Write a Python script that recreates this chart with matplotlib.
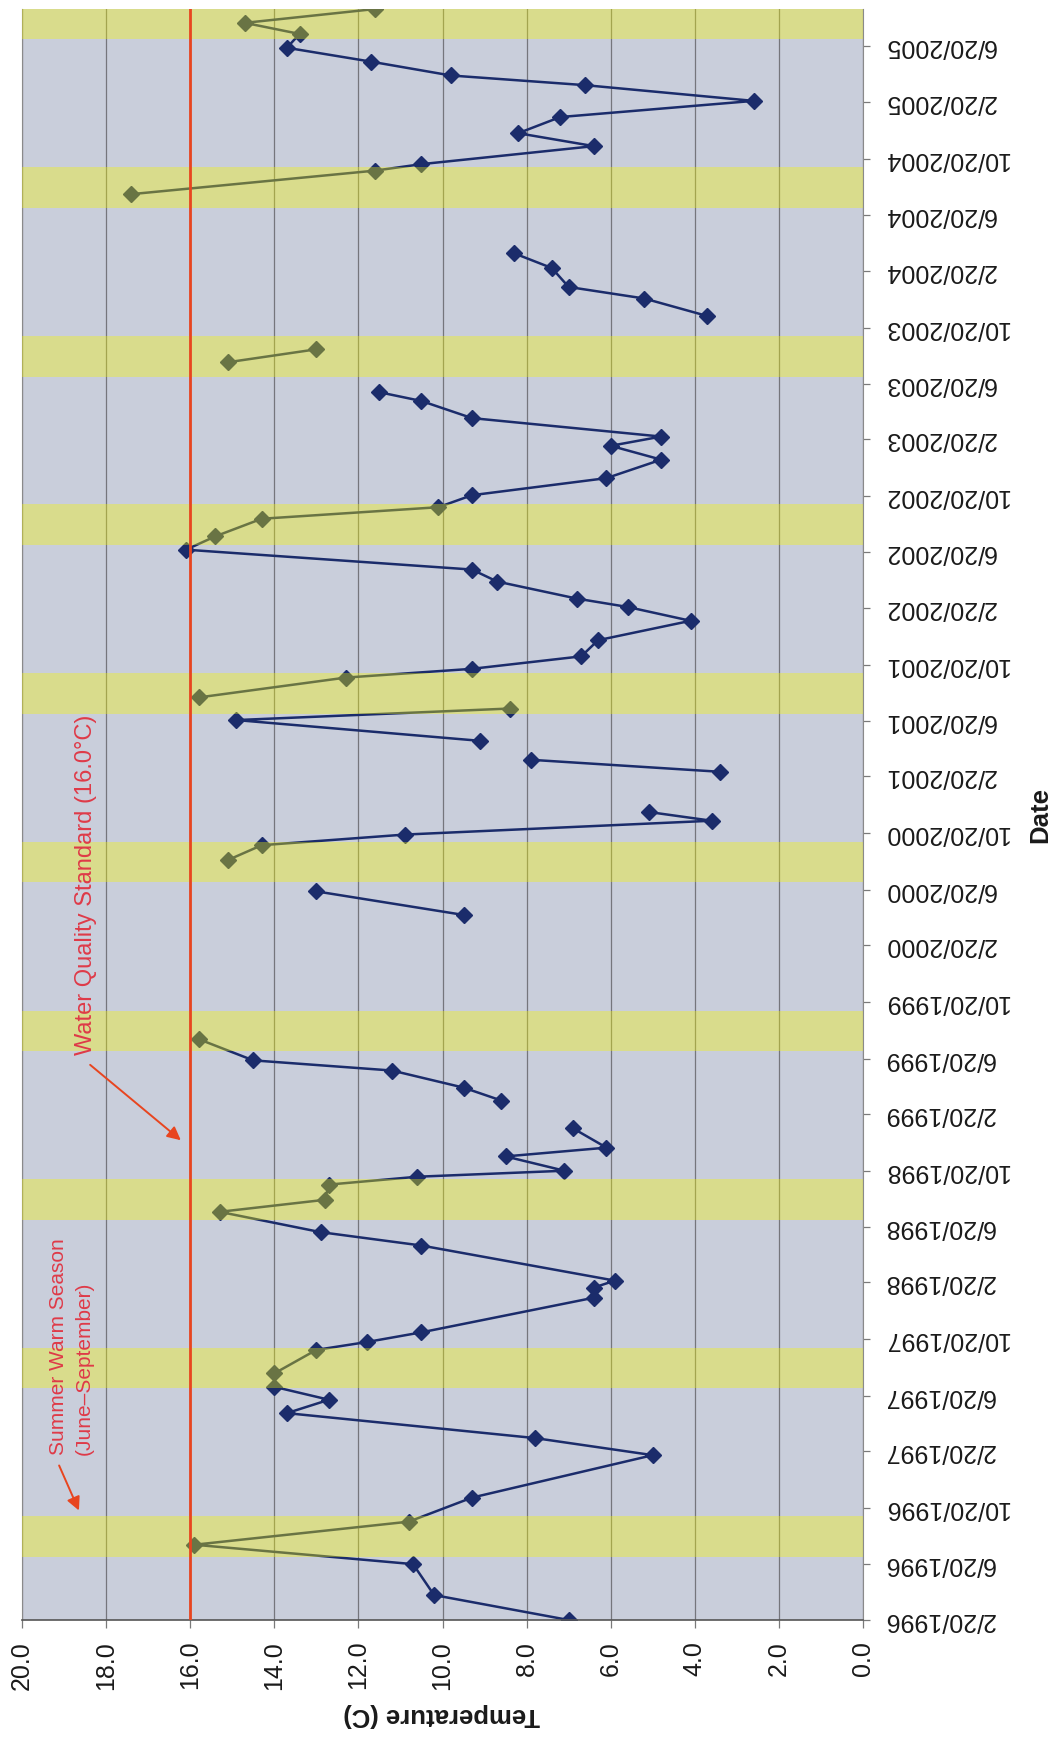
import numpy as np
import pandas as pd
import matplotlib
matplotlib.use('Agg')
import matplotlib.pyplot as plt
import matplotlib.dates as mdates

plt.rcParams['font.family'] = ['Liberation Sans', 'DejaVu Sans']

# sample dates and water temperature (C); nan = no sample, line breaks there
dates = ['1996-02-20', '1996-04-14', '1996-06-20', '1996-08-01', '1996-09-20', '1996-11-11',
         '1997-02-11', '1997-03-20', '1997-05-13', '1997-06-11', '1997-07-09', '1997-08-07',
         '1997-09-27', '1997-10-14', '1997-11-04', '1998-01-18', '1998-02-09', '1998-02-24',
         '1998-05-11', '1998-06-09', '1998-07-23', '1998-08-18', '1998-09-20', '1998-10-07',
         '1998-10-20', '1998-11-20', '1998-12-09', '1999-01-20', '1999-02-20',
         '1999-03-21', '1999-04-18', '1999-05-25', '1999-06-16', '1999-08-01', '1999-12-01',
         '2000-04-26', '2000-06-16', '2000-07-20',
         '2000-08-23', '2000-09-24', '2000-10-17', '2000-11-16', '2000-12-05', '2001-01-20',
         '2001-03-02', '2001-03-28', '2001-04-20',
         '2001-05-08', '2001-06-22', '2001-07-17', '2001-07-28',
         '2001-08-10', '2001-09-22', '2001-10-11', '2001-11-07', '2001-12-12', '2002-01-23',
         '2002-02-22', '2002-03-12', '2002-04-18', '2002-05-14', '2002-06-26', '2002-07-25',
         '2002-09-01', '2002-09-26', '2002-10-22', '2002-11-28', '2003-01-07', '2003-02-06',
         '2003-02-26', '2003-04-07', '2003-05-14', '2003-06-02', '2003-07-01',
         '2003-08-06', '2003-09-03', '2003-10-10',
         '2003-11-14', '2003-12-22', '2004-01-16', '2004-02-26', '2004-03-29', '2004-06-01',
         '2004-08-04', '2004-09-24', '2004-10-08', '2004-11-16', '2004-12-14', '2005-01-18',
         '2005-02-22', '2005-03-28', '2005-04-18', '2005-05-18', '2005-06-17', '2005-07-17',
         '2005-08-10', '2005-09-09']
temps = [7.0, 10.2, 10.7, 15.9, 10.8, 9.3,
         5.0, 7.8, 13.7, 12.7, 14.0, 14.0,
         13.0, 11.8, 10.5, 6.4, 6.4, 5.9,
         10.5, 12.9, 15.3, 12.8, 12.7, 10.6,
         7.1, 8.5, 6.1, 6.9, np.nan,
         8.6, 9.5, 11.2, 14.5, 15.8, np.nan,
         9.5, 13.0, np.nan,
         15.1, 14.3, 10.9, 3.6, 5.1, np.nan,
         3.4, 7.9, np.nan,
         9.1, 14.9, 8.4, np.nan,
         15.8, 12.3, 9.3, 6.7, 6.3, 4.1,
         5.6, 6.8, 8.7, 9.3, 16.1, 15.4,
         14.3, 10.1, 9.3, 6.1, 4.8, 6.0,
         4.8, 9.3, 10.5, 11.5, np.nan,
         15.1, 13.0, np.nan,
         3.7, 5.2, 7.0, 7.4, 8.3, np.nan,
         17.4, 11.6, 10.5, 6.4, 8.2, 7.2,
         2.6, 6.6, 9.8, 11.7, 13.7, 13.4,
         14.7, 11.6]

season_years = list(range(1996, 2006))
season_start = '07-06'
season_end = '10-02'
standard = 16.0

dates = pd.to_datetime(dates)
temps = np.array(temps)

fig = plt.figure(figsize=(10.54, 17.39), dpi=100)
ax = fig.add_axes([22 / 1054, 119 / 1739, 841 / 1054, 1611 / 1739])
ax.set_facecolor('#c9cedb')

ax.plot(temps, dates, color='#1b2c6b', lw=1.8, marker='D', ms=8.5,
        mec='#1b2c6b', mfc='#1b2c6b', zorder=2)

for yr in season_years:
    ax.axhspan(pd.Timestamp(f'{yr}-{season_start}'), pd.Timestamp(f'{yr}-{season_end}'),
               color='#f6f600', alpha=0.36, lw=0, zorder=3)

ax.axvline(standard, color='#e8451f', lw=2.0, zorder=4)

ax.set_xlim(20, 0)
ax.set_ylim(dates[0], dates[-1])
ax.set_xticks(np.arange(0, 20.1, 2))
ax.set_xticklabels([f'{v:.1f}' for v in np.arange(0, 20.1, 2)], rotation=90)
ax.grid(axis='x', color='#75767c', lw=0.9, zorder=0.5)
ax.set_axisbelow(True)

ticks = pd.date_range('1996-02-20', '2005-06-20', freq=pd.DateOffset(months=4))
ax.set_yticks(ticks)
ax.set_yticklabels([f'{d.month}/{d.day}/{d.year}' for d in ticks], rotation=180, va='center')
ax.yaxis.tick_right()

ax.tick_params(axis='x', length=6, width=0.9, pad=9, labelsize=18, colors='#7a7a7a',
               labelcolor='#1a1a1a')
ax.tick_params(axis='y', length=5, width=0.9, pad=10, labelsize=18, colors='#7a7a7a',
               labelcolor='#1a1a1a')
for s in ['left', 'right']:
    ax.spines[s].set_color('#8a8a8a')
ax.spines['bottom'].set_color('#555555')
ax.spines['bottom'].set_linewidth(1.2)
ax.spines['top'].set_visible(False)

fig.text(442 / 1054, 1 - 1715 / 1739, 'Temperature (C)', rotation=180, fontsize=18.5,
         fontweight='bold', ha='center', va='center', color='#1a1a1a')
fig.text(1040 / 1054, 1 - 815 / 1739, 'Date', rotation=90, fontsize=18.5,
         fontweight='bold', ha='center', va='center', color='#1a1a1a')

red = '#df3a48'
ax.text(0.0761, 0.3507, 'Water Quality Standard (16.0°C)', transform=ax.transAxes,
        rotation=90, ha='center', va='bottom', fontsize=17, color=red, zorder=5)
ax.annotate('', xy=(0.1914, 0.2967), xycoords='axes fraction',
            xytext=(0.0785, 0.3457), textcoords='axes fraction',
            arrowprops=dict(arrowstyle='-|>', color='#e8451f', lw=1.4, mutation_scale=20),
            zorder=5)
ax.text(0.0583, 0.1024, 'Summer Warm Season\n(June\u2013September)', transform=ax.transAxes,
        rotation=90, ha='center', va='bottom', multialignment='left', linespacing=1.45,
        fontsize=15, color=red, zorder=5)
ax.annotate('', xy=(0.069, 0.0664), xycoords='axes fraction',
            xytext=(0.0428, 0.0975), textcoords='axes fraction',
            arrowprops=dict(arrowstyle='-|>', color='#e8451f', lw=1.4, mutation_scale=20),
            zorder=5)

fig.savefig('out.png', dpi=100)
